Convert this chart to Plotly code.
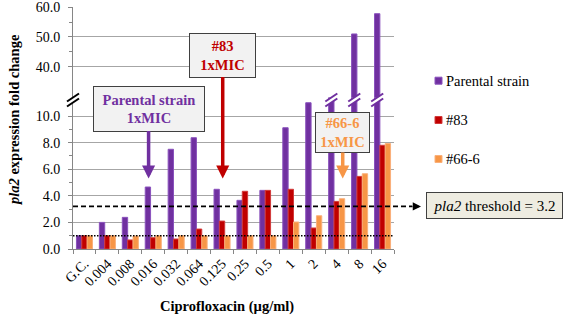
import plotly.graph_objects as go

# ---------------- data ----------------
categories = ["G.C.", "0.004", "0.008", "0.016", "0.032", "0.064", "0.125",
              "0.25", "0.5", "1", "2", "4", "8", "16"]
parental = [1.0, 2.0, 2.38, 4.66, 7.5, 8.37, 4.49, 3.66, 4.41, 9.12, 11.0, 20.0, 51.0, 57.8]
mut83 = [1.0, 1.0, 0.68, 0.85, 0.75, 1.5, 2.1, 4.34, 4.41, 4.49, 1.58, 3.58, 5.46, 7.8]
mut666 = [1.0, 1.0, 0.98, 1.0, 1.0, 1.0, 1.0, 1.0, 1.0, 2.03, 2.5, 3.78, 5.66, 7.93]
series_names = ["Parental strain", "#83", "#66-6"]
threshold = 3.2
baseline = 1.0
lower_ticks = [0, 2, 4, 6, 8, 10]
upper_ticks = [40, 50, 60]

# ---------------- style ----------------
FONT = "Liberation Serif"
colors = ["#7030A0", "#C00000", "#F79646"]
edge_colors = ["#8A52BD", "#D23A3A", "#FAB07A"]
W, H = 567, 317
ML, MR, MT, MB = 73, 173, 7, 68
PW, PH = W - ML - MR, H - MT - MB
lower_top = 11.4
upper_bottom = 29.7
split = 0.6264
bargap = 0.3
n_series = len(series_names)
off = [(k - (n_series - 1) / 2) * (1 - bargap) / n_series for k in range(n_series)]

fig = go.Figure()
all_vals = [parental, mut83, mut666]
for k, (name, vals) in enumerate(zip(series_names, all_vals)):
    for xa, ya in (("x", "y"), ("x2", "y2")):
        fig.add_trace(go.Bar(
            x=categories, y=vals, name=name, xaxis=xa, yaxis=ya,
            offsetgroup=str(k), showlegend=False, hoverinfo="skip",
            marker=dict(color=colors[k], line=dict(color=edge_colors[k], width=1)),
        ))

axis_common = dict(showline=True, linecolor="#868686", linewidth=1, automargin=False,
                   tickfont=dict(family=FONT, size=14, color="black"))
fig.update_layout(
    width=W, height=H, margin=dict(l=ML, r=MR, t=MT, b=MB, autoexpand=False),
    paper_bgcolor="white", plot_bgcolor="white",
    barmode="group", bargap=bargap, bargroupgap=0,
    showlegend=False, hovermode=False,
    font=dict(family=FONT, size=14, color="black"),
    xaxis=dict(domain=[0, 1], anchor="y", type="category", range=[-0.5, 13.5],
               ticks="outside", tickson="boundaries", ticklen=4, tickcolor="#868686",
               tickangle=-45, showgrid=False, zeroline=False, **axis_common),
    xaxis2=dict(domain=[0, 1], anchor="y2", matches="x", type="category",
                showticklabels=False, showgrid=False, zeroline=False, showline=False,
                ticks=""),
    yaxis=dict(domain=[0, split], anchor="x", range=[0, lower_top],
               tickvals=lower_ticks, tickformat=".1f", showgrid=True, gridcolor="#A6A6A6",
               zeroline=False, ticks="outside", ticklen=4, tickcolor="#868686",
               ticklabelstandoff=5,
               minor=dict(tickvals=[1, 3, 5, 7, 9], ticks="outside", ticklen=3,
                          tickcolor="#868686", showgrid=False),
               **axis_common),
    yaxis2=dict(domain=[split, 1], anchor="x2", range=[upper_bottom, 60.05],
                tickvals=upper_ticks, tickformat=".1f", showgrid=True, gridcolor="#A6A6A6",
                zeroline=False, ticks="outside", ticklen=4, tickcolor="#868686",
                ticklabelstandoff=5,
                minor=dict(tickvals=[45, 55], ticks="outside", ticklen=3,
                           tickcolor="#868686", showgrid=False),
                **axis_common),
)

def pxx(xpx):
    return (xpx - ML) / PW

def pxy(ypx):
    return (H - MB - ypx) / PH

shapes = []
# baseline dotted, threshold dashed
shapes.append(dict(type="line", xref="paper", yref="y", x0=0, x1=1, y0=baseline, y1=baseline,
                   line=dict(color="black", width=1.5, dash="1.5px,1.5px")))
shapes.append(dict(type="line", xref="paper", yref="y", x0=0, x1=pxx(412), y0=threshold, y1=threshold,
                   line=dict(color="black", width=1.8, dash="5px,3px")))

# break marks
brk_y = pxy(100)
ux = 1 / (PW / len(categories))  # data units per px on x
uy = 1 / PH

def break_mark(xc, xref, xunit, color):
    hw, hh, g = 6, 4, 2.5
    pts_lo = [(xc - hw * xunit, brk_y - (hh + g) * uy), (xc + hw * xunit, brk_y + (hh - g) * uy)]
    pts_hi = [(xc - hw * xunit, brk_y - (hh - g) * uy), (xc + hw * xunit, brk_y + (hh + g) * uy)]
    path = "M{},{} L{},{} L{},{} L{},{} Z".format(
        pts_lo[0][0], pts_lo[0][1], pts_lo[1][0], pts_lo[1][1],
        pts_hi[1][0], pts_hi[1][1], pts_hi[0][0], pts_hi[0][1])
    out = [dict(type="path", xref=xref, yref="paper", path=path, fillcolor="white",
                line=dict(width=0))]
    for p in (pts_lo, pts_hi):
        out.append(dict(type="line", xref=xref, yref="paper", x0=p[0][0], y0=p[0][1],
                        x1=p[1][0], y1=p[1][1], line=dict(color=color, width=2)))
    return out

for i, v in enumerate(parental):
    if v > lower_top:
        shapes += break_mark(i + off[0], "x", ux, colors[0])
shapes += break_mark(0, "paper", 1 / PW, "black")

# custom legend
leg_y = [80.7, 120, 159]
for k, name in enumerate(series_names):
    cy = pxy(leg_y[k])
    shapes.append(dict(type="rect", xref="paper", yref="paper",
                       x0=pxx(435), x1=pxx(442), y0=cy - 3.5 * uy, y1=cy + 3.5 * uy,
                       fillcolor=colors[k], line=dict(color=edge_colors[k], width=1)))
fig.update_layout(shapes=shapes)

ann = []
for k, name in enumerate(series_names):
    ann.append(dict(xref="paper", yref="paper", x=pxx(444), y=pxy(leg_y[k]), text=name,
                    showarrow=False, xanchor="left", yanchor="middle",
                    font=dict(family=FONT, size=14.5, color="black")))

# callouts
callouts = [
    (3, 0, "<b>Parental strain<br>1xMIC</b>", 108, 42, -70),
    (6, 1, "<b>#83<br>1xMIC</b>", 63, 41, -123.5),
    (11, 2, "<b>#66-6<br>1xMIC</b>", 51, 37, -46),
]
for ci, k, txt, w, h, ay in callouts:
    ann.append(dict(x=ci + off[k] + 0.03, y=5.3, xref="x", yref="y", ax=0, ay=ay,
                    text=txt, showarrow=True, arrowhead=2, arrowwidth=3.5, arrowsize=0.75,
                    arrowcolor=colors[k], standoff=0, width=w, height=h,
                    bgcolor="#F2F2F2", bordercolor="#404040", borderwidth=1, borderpad=1,
                    font=dict(family=FONT, size=14.5, color=colors[k])))

# threshold arrow + box
ann.append(dict(xref="paper", yref="y", x=pxx(421), y=threshold, ax=-10, ay=0, text="",
                showarrow=True, arrowhead=2, arrowwidth=1.5, arrowsize=1.1,
                arrowcolor="black", standoff=0))
ann.append(dict(xref="paper", yref="y", x=pxx(494.2), y=threshold, yshift=1,
                xanchor="center", yanchor="middle",
                text="<i>pla2</i> threshold = 3.2", showarrow=False,
                width=133, height=23, bgcolor="#EEECE1", bordercolor="#404040",
                borderwidth=1, borderpad=1, font=dict(family=FONT, size=15, color="black")))

# axis titles
ann.append(dict(xref="paper", yref="paper", x=pxx(14), y=pxy(120),
                xanchor="center", yanchor="middle",
                text="<b><i>pla2</i> expression fold change</b>", textangle=-90,
                showarrow=False, font=dict(family=FONT, size=14.5, color="black")))
ann.append(dict(xref="paper", yref="paper", x=pxx(227), y=pxy(306),
                xanchor="center", yanchor="middle",
                text="<b>Ciprofloxacin (µg/ml)</b>", showarrow=False,
                font=dict(family=FONT, size=14.5, color="black")))
fig.update_layout(annotations=ann)

fig.write_html("out.html", config={"displayModeBar": False},
               post_script="document.body.style.margin='0';")
